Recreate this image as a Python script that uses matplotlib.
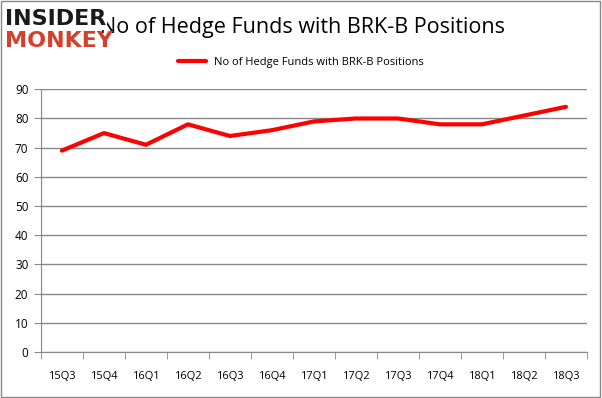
import matplotlib.pyplot as plt
import numpy as np

# Dữ liệu
quarters = ["15Q3", "15Q4", "16Q1", "16Q2", "16Q3", "16Q4", "17Q1",
            "17Q2", "17Q3", "17Q4", "18Q1", "18Q2", "18Q3"]
funds = [69, 75, 71, 78, 74, 76, 79, 80, 80, 78, 78, 81, 84]
yticks = [0, 10, 20, 30, 40, 50, 60, 70, 80, 90]

plt.rcParams['font.family'] = ['Open Sans', 'DejaVu Sans']

fig = plt.figure(figsize=(6.02, 3.98), dpi=100)
ax = fig.add_axes([0.068, 0.1156, 0.907, 0.66])

x = np.arange(len(quarters))
ax.plot(x, funds, color='#ff0000', linewidth=3, solid_capstyle='round',
        label="No of Hedge Funds with BRK-B Positions")

ax.set_xlim(-0.5, len(quarters) - 0.5)
ax.set_ylim(0, 90)
ax.set_yticks(yticks)
ax.set_xticks(x)
ax.set_xticklabels(quarters, fontsize=8)
ax.set_xticks(np.arange(-0.5, len(quarters)), minor=True)
ax.tick_params(axis='x', which='major', length=0, pad=14)
ax.tick_params(axis='x', which='minor', length=5, color='#888888', direction='out')
ax.tick_params(axis='y', labelsize=8.5, length=5, color='#888888', pad=4)

ax.grid(axis='y', color='#888888', linewidth=1)
ax.set_axisbelow(True)
for s in ['top', 'right']:
    ax.spines[s].set_visible(False)
ax.spines['left'].set_color('#888888')
ax.spines['bottom'].set_color('#888888')

fig.text(0.502, 0.932, "No of Hedge Funds with BRK-B Positions", fontsize=15.5,
         ha='center', va='center')
ax.legend(loc='center', bbox_to_anchor=(0.5, 0.844), bbox_transform=fig.transFigure,
          frameon=False, fontsize=8, handlelength=2.5)

# Logo (vẽ đè lên tiêu đề)
fig.text(0.008, 0.952, "INSIDER", fontsize=16, fontweight='heavy', color='#1a1a1a',
         ha='left', va='center', family='DejaVu Sans',
         bbox=dict(facecolor='white', edgecolor='none', pad=0.5))
fig.text(0.008, 0.898, "MONKEY", fontsize=16, fontweight='heavy', color='#d4402b',
         ha='left', va='center', family='DejaVu Sans')

# Khung ngoài
fig.patches.append(plt.Rectangle((0.002, 0.003), 0.995, 0.994, transform=fig.transFigure,
                                 fill=False, edgecolor='#888888', linewidth=1))

fig.savefig("out.png", dpi=100)
